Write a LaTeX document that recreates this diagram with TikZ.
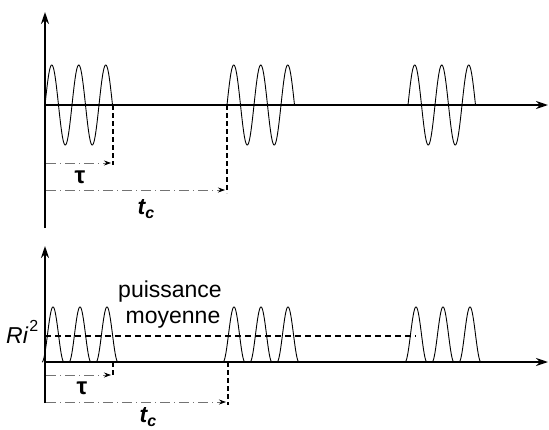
\documentclass[tikz,border=0pt]{standalone}
\usepackage{fontspec}
\setmainfont{Liberation Sans}
\usetikzlibrary{arrows.meta}
\begin{document}
\begin{tikzpicture}[x=1pt,y=-1pt,
  axis/.style={line width=2.2pt,-{Stealth[length=12pt,width=8pt]}},
  wave/.style={line width=0.9pt},
  vdash/.style={line width=2pt,dash pattern=on 5pt off 3pt},
  hdash/.style={line width=1.8pt,dash pattern=on 6pt off 4pt},
  dimline/.style={line width=0.7pt,black!55,dash pattern=on 10pt off 4pt on 1pt off 4pt,-{Stealth[length=7pt,width=5pt,black]}},
  lbl/.style={inner sep=0pt,font=\fontsize{23}{26}\selectfont},
  greek/.style={inner sep=0pt,font=\fontsize{24}{26}\selectfont\bfseries},
  sym/.style={inner sep=0pt,font=\fontsize{23}{26}\selectfont\itshape\bfseries}]
\useasboundingbox (0,0) rectangle (549,429);
\clip (0,0) rectangle (549,429);
% ---------- top graph ----------
\coordinate (O1) at (45,105);
\coordinate (Y1b) at (45,228);
\coordinate (Y1t) at (45,12);
\coordinate (X1e) at (548,105);
\draw[axis] (Y1b) -- (Y1t);
\draw[axis] (O1) -- (X1e);
\foreach \s in {45,227,408}{
  \draw[wave] plot[domain=0:67.5,samples=120] ({\s+\x},{105-40*sin(\x/27*360)});
}
\coordinate (A1) at (113,105);
\coordinate (A1b) at (113,165);
\coordinate (B1) at (227,105);
\coordinate (B1b) at (227,193);
\draw[vdash] (A1) -- (A1b);
\draw[vdash] (B1) -- (B1b);
\coordinate (T1s) at (46,163);
\coordinate (T1e) at (111,163);
\coordinate (C1s) at (46,190);
\coordinate (C1e) at (225,190);
\draw[dimline] (T1s) -- (T1e);
\draw[dimline] (C1s) -- (C1e);
\node[greek] (tau1) at (80,177) {τ};
\node[sym] (tc1) at (146,209) {t\raisebox{-0.3ex}{\fontsize{16}{18}\selectfont c}};
% ---------- bottom graph ----------
\coordinate (O2) at (45,362);
\coordinate (Y2b) at (45,403);
\coordinate (Y2t) at (45,246);
\coordinate (X2e) at (548,362);
\draw[axis] (Y2b) -- (Y2t);
\draw[axis] (O2) -- (X2e);
\foreach \p in {53,80,107,234,261,288,416,443,470}{
  \draw[wave] plot[domain=-11:11,samples=60] ({\p+\x},{362-55*(cos(\x/22*180))^2});
}
\coordinate (R1) at (45,336);
\coordinate (R2) at (416,336);
\draw[hdash] (R1) -- (R2);
\node[inner sep=0pt,anchor=base west,font=\fontsize{23}{26}\selectfont\itshape] (ri) at (6,343) {Ri\kern1.5pt\raisebox{0.95ex}{\fontsize{16}{18}\selectfont\upshape 2}};
\node[lbl] (pu) at (170,292) {puissance};
\node[lbl] (mo) at (173,320) {moyenne};
\coordinate (A2) at (113,362);
\coordinate (A2b) at (113,377);
\coordinate (B2) at (228,362);
\coordinate (B2b) at (228,405);
\draw[vdash] (A2) -- (A2b);
\draw[vdash] (B2) -- (B2b);
\coordinate (T2s) at (46,375);
\coordinate (T2e) at (111,375);
\coordinate (C2s) at (46,402);
\coordinate (C2e) at (226,402);
\draw[dimline] (T2s) -- (T2e);
\draw[dimline] (C2s) -- (C2e);
\node[greek] (tau2) at (82,388) {τ};
\node[sym] (tc2) at (148,417) {t\raisebox{-0.3ex}{\fontsize{16}{18}\selectfont c}};
\end{tikzpicture}
\end{document}
